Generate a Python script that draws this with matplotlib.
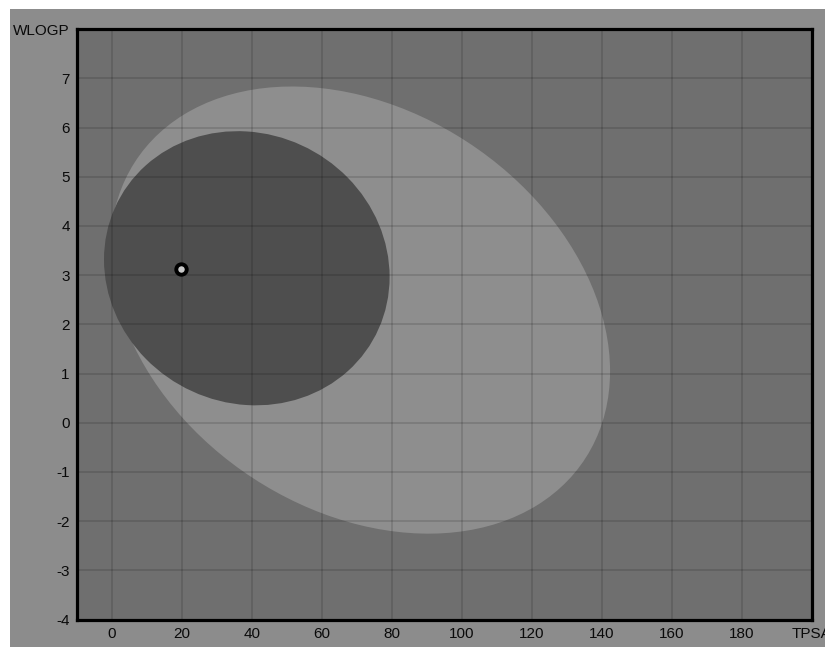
import matplotlib.pyplot as plt
from matplotlib.patches import Ellipse, Rectangle

# BOILED-Egg regions (center x, center y, width, height, angle in data space)
white_center = (71.0, 2.29)
white_size = (142.8, 8.74)
white_angle = -1.0
yolk_center = (38.6, 3.14)
yolk_size = (81.6, 5.56)
yolk_angle = -0.25

# molecule
mol_tpsa = [19.8]
mol_wlogp = [3.13]

xticks = [0, 20, 40, 60, 80, 100, 120, 140, 160, 180, 200]
xlabels = ['0', '20', '40', '60', '80', '100', '120', '140', '160', '180', 'TPSA']
yticks = [-4, -3, -2, -1, 0, 1, 2, 3, 4, 5, 6, 7, 8]
ylabels = ['-4', '-3', '-2', '-1', '0', '1', '2', '3', '4', '5', '6', '7', 'WLOGP']

plt.rcParams['font.family'] = ['Liberation Sans', 'DejaVu Sans']

W, H = 825, 647
fig = plt.figure(figsize=(W / 100, H / 100), dpi=100, facecolor='white')
fig.patches.append(Rectangle((10 / W, 0), 1 - 10 / W, 1 - 9 / H,
                             transform=fig.transFigure, facecolor='#8c8c8c',
                             edgecolor='none', zorder=-10))

ax = fig.add_axes([76.7 / W, 1 - 619.6 / H, (811.7 - 76.7) / W, (619.6 - 29.1) / H])
ax.set_zorder(5)
ax.set_facecolor('#6f6f6f')
ax.set_xlim(-10, 200)
ax.set_ylim(-4, 8)

ax.add_patch(Ellipse(white_center, white_size[0], white_size[1], angle=white_angle,
                     facecolor='#8e8e8e', edgecolor='none', zorder=1))
ax.add_patch(Ellipse(yolk_center, yolk_size[0], yolk_size[1], angle=yolk_angle,
                     facecolor='#4e4e4e', edgecolor='none', zorder=2))

for x in xticks[:-1]:
    ax.axvline(x, color='black', alpha=0.13, lw=1.4, zorder=3)
for y in yticks[1:-1]:
    ax.axhline(y, color='black', alpha=0.13, lw=1.4, zorder=3)

ax.plot(mol_tpsa, mol_wlogp, 'o', ms=7.5, mfc='#c8c8c8', mec='black', mew=2.8, zorder=5)

ax.set_xticks(xticks)
ax.set_xticklabels(xlabels)
ax.set_yticks(yticks)
ax.set_yticklabels(ylabels)
ax.tick_params(length=0, labelsize=11, colors='#0a0a0a', pad=5)
for sp in ax.spines.values():
    sp.set_linewidth(2.3)
    sp.set_color('black')
    sp.set_zorder(6)

fig.savefig('out.png', dpi=100, facecolor=fig.get_facecolor())
